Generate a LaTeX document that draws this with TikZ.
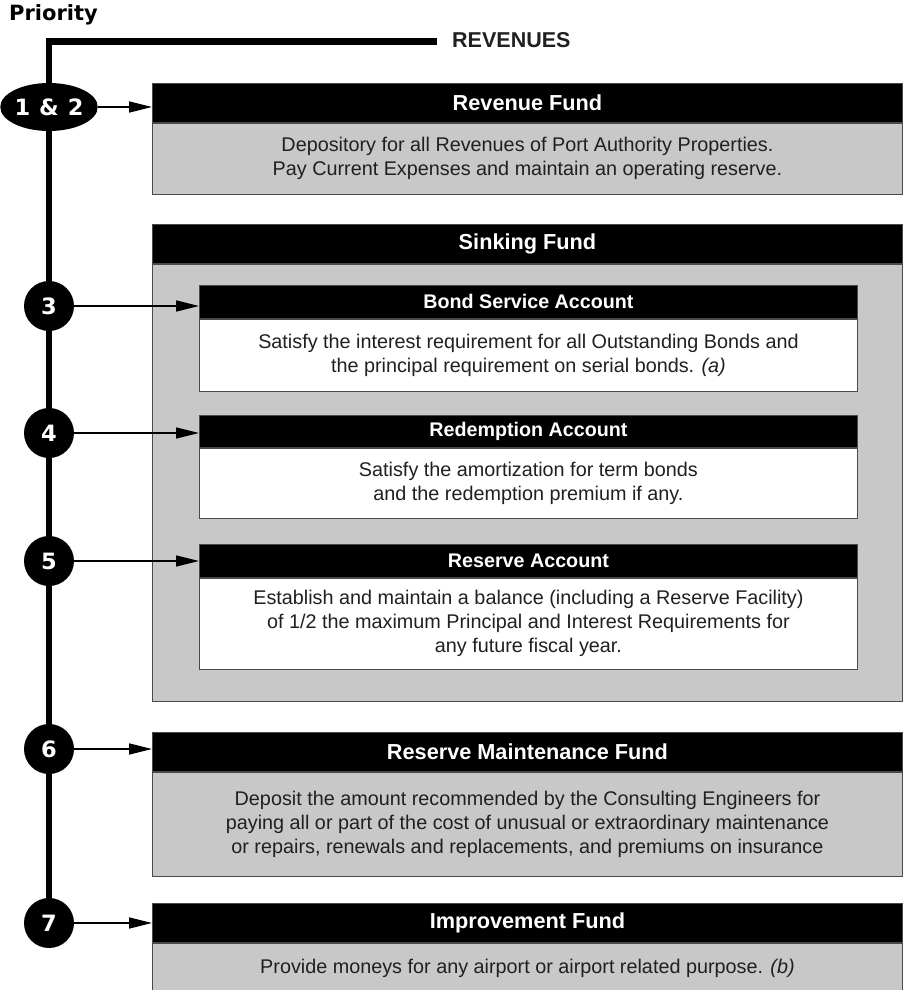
\documentclass[tikz,border=0pt]{standalone}
\usepackage{fontspec}
\setmainfont{Liberation Sans}
\newfontfamily\heavyfont{DejaVu Sans}
\usetikzlibrary{arrows.meta,shapes.geometric}
\definecolor{fundgray}{HTML}{C8C8C8}
\definecolor{edgegray}{HTML}{4A4A4A}
\definecolor{inkgray}{HTML}{202020}

\begin{document}
\begin{tikzpicture}[x=1pt, y=-1pt,
  fundhead/.style={draw=edgegray, line width=0.9pt, fill=black, text=white, anchor=north west, inner sep=0pt,
    minimum width=750pt, minimum height=39pt, font=\fontsize{21.7}{25}\selectfont\bfseries},
  accthead/.style={fundhead, minimum width=658pt, minimum height=33pt, font=\fontsize{19.7}{23}\selectfont\bfseries},
  fundbody/.style={draw=edgegray, line width=0.9pt, fill=fundgray, text=inkgray, anchor=north west, inner sep=0pt,
    minimum width=750pt, align=center, font=\fontsize{19.8}{24}\selectfont},
  acctbody/.style={fundbody, fill=white, minimum width=658pt},
  prio/.style={circle, fill=black, text=white, inner sep=0pt, minimum size=50pt,
    font=\fontsize{22.5}{26}\selectfont\heavyfont\bfseries},
  feed/.style={line width=1.5pt, -{Triangle[length=23pt, width=11pt]}},
  trunk/.style={line width=6.5pt, line join=miter}
]
  \useasboundingbox (0,0) rectangle (902,990);

  % Titles
  \node[font=\fontsize{21}{25}\selectfont\heavyfont\bfseries, anchor=north west, inner sep=0pt] (prtitle) at (9,4) {Priority};
  \node[font=\fontsize{21.5}{25}\selectfont\bfseries, text=inkgray, anchor=west, inner sep=0pt] (revtitle) at (452,40) {REVENUES};
  \coordinate (topend) at (437,41.5);

  % Revenue Fund
  \node[fundhead] (revhead) at (152,83) {Revenue Fund};
  \node[fundbody, minimum height=71pt] (revbody) at (revhead.south west)
    {Depository for all Revenues of Port Authority Properties.\\Pay Current Expenses and maintain an operating reserve.};

  % Sinking Fund with its three accounts
  \node[fundhead] (sinkhead) at (152,224) {Sinking Fund};
  \node[fundbody, minimum height=437pt] (sinkbody) at (sinkhead.south west) {};
  \node[accthead] (bondhead) at (199,285) {Bond Service Account};
  \node[acctbody, minimum height=72pt] (bondbody) at (bondhead.south west)
    {Satisfy the interest requirement for all Outstanding Bonds and\\the principal requirement on serial bonds. \textit{(a)}};
  \node[accthead, minimum height=32pt] (redhead) at (199,415) {Redemption Account};
  \node[acctbody, minimum height=70pt] (redbody) at (redhead.south west)
    {Satisfy the amortization for term bonds\\and the redemption premium if any.};
  \node[accthead] (reshead) at (199,544) {Reserve Account};
  \node[acctbody, minimum height=91pt] (resbody) at (reshead.south west)
    {Establish and maintain a balance (including a Reserve Facility)\\of 1/2 the maximum Principal and Interest Requirements for\\any future fiscal year.};

  % Reserve Maintenance Fund
  \node[fundhead] (mainthead) at (152,732) {Reserve Maintenance Fund};
  \node[fundbody, minimum height=104pt] (maintbody) at (mainthead.south west)
    {Deposit the amount recommended by the Consulting Engineers for\\paying all or part of the cost of unusual or extraordinary maintenance\\or repairs, renewals and replacements, and premiums on insurance};

  % Improvement Fund
  \node[fundhead] (imprhead) at (152,903) {Improvement Fund};
  \node[fundbody, minimum height=50pt] (imprbody) at (imprhead.south west)
    {Provide moneys for any airport or airport related purpose. \textit{(b)}};

  % Priority markers
  \node[prio, ellipse, minimum width=94pt, minimum height=48pt] (p12) at (49,107) {1\hspace{9pt}\&\hspace{9pt}2};
  \foreach \n/\y in {3/306, 4/433, 5/561, 6/749, 7/923}
    \node[prio] (p\n) at (49,\y) {\n};

  % Trunk line
  \draw[trunk] (topend) -| ([yshift=-2pt]p12.north);
  \foreach \a/\b in {p12/p3, p3/p4, p4/p5, p5/p6, p6/p7}
    \draw[trunk, shorten <=-2pt, shorten >=-2pt] (\a.south) -- (\b.north);

  % Arrows into the funds
  \foreach \n/\t in {12/revhead, 3/bondhead, 4/redhead, 5/reshead, 6/mainthead, 7/imprhead}
    \draw[feed] (p\n.east) -- (p\n.east -| \t.west);
\end{tikzpicture}
\end{document}
